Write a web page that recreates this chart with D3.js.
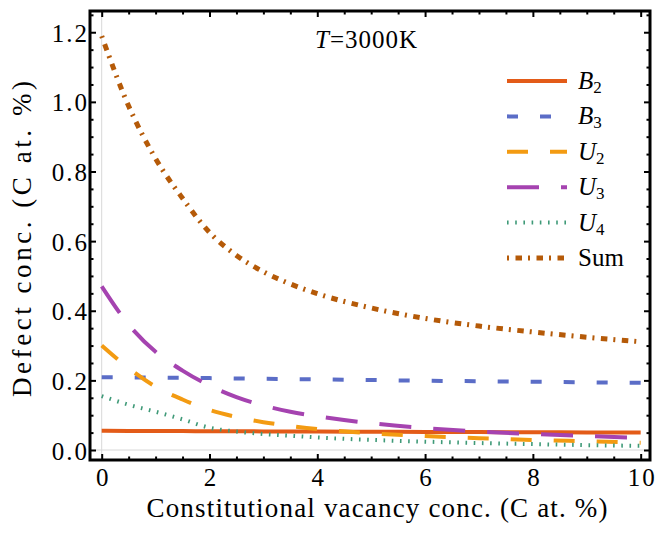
<!DOCTYPE html>
<html>
<head>
<meta charset="utf-8">
<script src="https://cdn.jsdelivr.net/npm/d3@7"></script>
<style>
  html, body { margin: 0; padding: 0; background: #fff; }
  svg { display: block; }
</style>
</head>
<body>
<div id="chart"></div>
<script>
/* ---------- data ---------- */
const xVals = [0, 0.5, 1, 1.5, 2, 2.5, 3, 3.5, 4, 5, 6, 7, 8, 9, 10];
const b2  = [0.055, 0.0548, 0.0545, 0.0543, 0.054, 0.0538, 0.0535, 0.0533, 0.053, 0.0525, 0.052, 0.0515, 0.051, 0.0505, 0.05];
const b3  = [0.209, 0.2085, 0.208, 0.2075, 0.2065, 0.2055, 0.2045, 0.2038, 0.203, 0.201, 0.199, 0.1975, 0.196, 0.1945, 0.193];
const u2  = [0.30, 0.235, 0.182, 0.145, 0.115, 0.095, 0.08, 0.069, 0.06, 0.048, 0.040, 0.034, 0.029, 0.025, 0.021];
const u3  = [0.47, 0.36, 0.282, 0.228, 0.185, 0.152, 0.128, 0.11, 0.097, 0.077, 0.063, 0.053, 0.046, 0.040, 0.035];
const u4  = [0.155, 0.13, 0.11, 0.088, 0.064, 0.053, 0.046, 0.041, 0.036, 0.029, 0.024, 0.020, 0.017, 0.014, 0.012];
const sum = [1.189, 0.988, 0.837, 0.723, 0.625, 0.559, 0.512, 0.477, 0.449, 0.408, 0.378, 0.356, 0.339, 0.324, 0.311];

const xTicks = [0, 2, 4, 6, 8, 10];
const yTicks = [0, 0.2, 0.4, 0.6, 0.8, 1.0, 1.2];

const seriesList = [
  { key: 'B', sub: '2', italic: true, values: b2,  color: '#e35b18', dash: null },
  { key: 'B', sub: '3', italic: true, values: b3,  color: '#5b6dc7', dash: '11,22' },
  { key: 'U', sub: '2', italic: true, values: u2,  color: '#f39b12', dash: '21,22' },
  { key: 'U', sub: '3', italic: true, values: u3,  color: '#a543b0', dash: '32,22' },
  { key: 'U', sub: '4', italic: true, values: u4,  color: '#3f9a78', dash: '1.6,6.6' },
  { key: 'Sum', sub: '', italic: false, values: sum, color: '#b55a08', dash: '2,6.5,6.5,6' }
];

const FONT = '"Liberation Serif", "Times New Roman", Times, serif';

/* ---------- layout ---------- */
const W = 656, H = 533;
const margin = { left: 90, right: 6, top: 11, bottom: 73 };
const innerW = W - margin.left - margin.right;
const innerH = H - margin.top - margin.bottom;

const svg = d3.select('#chart').append('svg')
  .attr('width', W).attr('height', H)
  .attr('viewBox', `0 0 ${W} ${H}`)
  .attr('font-family', FONT);

const g = svg.append('g').attr('transform', `translate(${margin.left},${margin.top})`);

const x = d3.scaleLinear().domain([-0.217, 10.173]).range([0, innerW]);
const y = d3.scaleLinear().domain([-0.0287, 1.261]).range([innerH, 0]);

svg.append('defs').append('clipPath').attr('id', 'plotClip')
  .append('rect').attr('width', innerW).attr('height', innerH);

// faint zero axes
g.append('line').attr('x1', x(0)).attr('x2', x(0)).attr('y1', 0).attr('y2', innerH)
  .attr('stroke', '#d8d8d8').attr('stroke-width', 1);
g.append('line').attr('x1', 0).attr('x2', innerW).attr('y1', y(0)).attr('y2', y(0))
  .attr('stroke', '#d8d8d8').attr('stroke-width', 1);

/* ---------- curves ---------- */
const line = d3.line()
  .x((d, i) => x(xVals[i]))
  .y(d => y(d))
  .curve(d3.curveMonotoneX);

const plot = g.append('g').attr('clip-path', 'url(#plotClip)');
seriesList.forEach(s => {
  plot.append('path')
    .datum(s.values)
    .attr('d', line)
    .attr('fill', 'none')
    .attr('stroke', s.color)
    .attr('stroke-width', s.key === 'Sum' ? 5 : 4)
    .attr('stroke-linecap', 'butt')
    .attr('stroke-dasharray', s.dash);
});

/* ---------- axes: ticks point inward, mirrored on top/right ---------- */
const minorX = d3.range(0, 10.01, 0.5).filter(v => !xTicks.includes(v));
const minorY = d3.range(0, 1.26, 0.05).map(v => +v.toFixed(2)).filter(v => !yTicks.some(t => Math.abs(t - v) < 1e-6));

function styleAxis(sel) {
  sel.attr('font-family', FONT);
  sel.select('.domain').remove();
  sel.selectAll('.tick line').attr('stroke', '#000').attr('stroke-width', 2);
  sel.selectAll('text').attr('fill', '#000').attr('font-size', 25)
    .attr('font-family', FONT)
    .style('letter-spacing', '2px');
}

const fmtY = d3.format('.1f');

g.append('g').attr('transform', `translate(0,${innerH})`)
  .call(d3.axisBottom(x).tickValues(xTicks).tickSize(-6).tickPadding(8).tickFormat(d3.format('d')))
  .call(styleAxis)
  .selectAll('text').attr('dx', '1px');
g.append('g').attr('transform', `translate(0,${innerH})`)
  .call(d3.axisBottom(x).tickValues(minorX).tickSize(-3.5).tickFormat(''))
  .call(styleAxis);
g.append('g')
  .call(d3.axisTop(x).tickValues(xTicks).tickSize(-6).tickFormat(''))
  .call(styleAxis);
g.append('g')
  .call(d3.axisTop(x).tickValues(minorX).tickSize(-3.5).tickFormat(''))
  .call(styleAxis);

g.append('g')
  .call(d3.axisLeft(y).tickValues(yTicks).tickSize(-6).tickPadding(3).tickFormat(fmtY))
  .call(styleAxis)
  .selectAll('text').attr('dx', '2px').attr('dy', '0.36em');
g.append('g')
  .call(d3.axisLeft(y).tickValues(minorY).tickSize(-3.5).tickFormat(''))
  .call(styleAxis);
g.append('g').attr('transform', `translate(${innerW},0)`)
  .call(d3.axisRight(y).tickValues(yTicks).tickSize(-6).tickFormat(''))
  .call(styleAxis);
g.append('g').attr('transform', `translate(${innerW},0)`)
  .call(d3.axisRight(y).tickValues(minorY).tickSize(-3.5).tickFormat(''))
  .call(styleAxis);

// frame
g.append('rect')
  .attr('x', 0).attr('y', 0).attr('width', innerW).attr('height', innerH)
  .attr('fill', 'none').attr('stroke', '#000').attr('stroke-width', 3);

/* ---------- titles ---------- */
svg.append('text')
  .attr('x', 377).attr('y', 517)
  .attr('text-anchor', 'middle')
  .attr('font-size', 27)
  .attr('textLength', 461).attr('lengthAdjust', 'spacing')
  .text('Constitutional vacancy conc. (C at. %)');

svg.append('text')
  .attr('transform', 'translate(31,239) rotate(-90)')
  .attr('text-anchor', 'middle')
  .attr('font-size', 27)
  .attr('textLength', 316).attr('lengthAdjust', 'spacing')
  .text('Defect conc. (C at. %)');

const tLabel = svg.append('text')
  .attr('x', 315).attr('y', 48)
  .attr('font-size', 25);
tLabel.append('tspan').attr('font-style', 'italic').text('T');
tLabel.append('tspan').attr('dx', 1).text('=');
tLabel.append('tspan').attr('dx', 1).style('letter-spacing', '1px').text('3000K');

/* ---------- legend ---------- */
const legY0 = 81, legStep = 35.4;
const leg = svg.append('g');
seriesList.forEach((s, i) => {
  const cy = legY0 + i * legStep;
  leg.append('line')
    .attr('x1', 507).attr('x2', 567).attr('y1', cy).attr('y2', cy)
    .attr('stroke', s.color)
    .attr('stroke-width', s.key === 'Sum' ? 5 : 4)
    .attr('stroke-dasharray', s.dash);
  const t = leg.append('text')
    .attr('x', 578).attr('y', cy + 8)
    .attr('font-size', 25);
  t.append('tspan').attr('font-style', s.italic ? 'italic' : 'normal').text(s.key);
  if (s.sub) {
    t.append('tspan').attr('font-size', 17).attr('dx', 0).attr('dy', 4).text(s.sub);
  }
});
</script>
</body>
</html>
